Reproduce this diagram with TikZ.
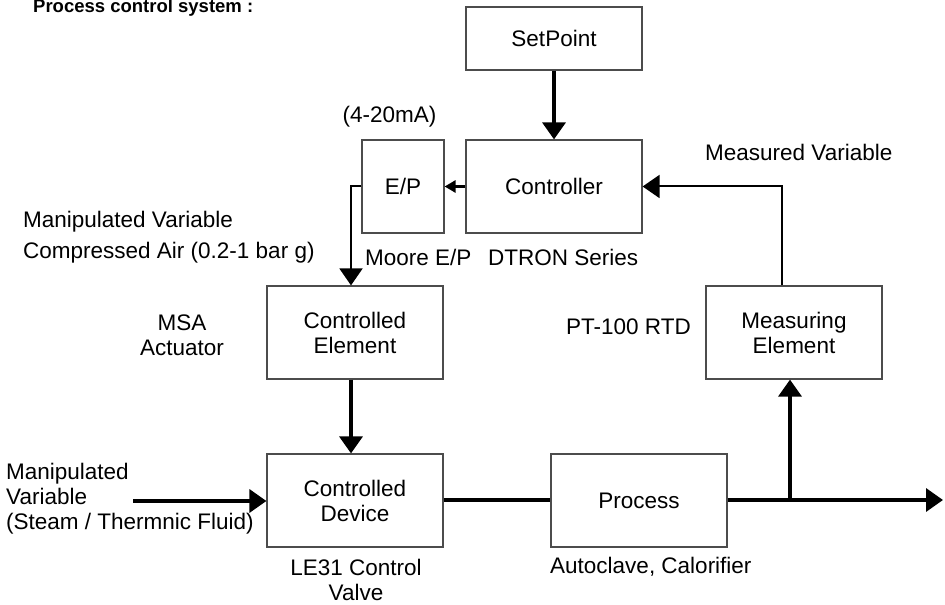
\documentclass[tikz,border=0pt]{standalone}
\usepackage{fontspec}
\setmainfont{Liberation Sans}
\usetikzlibrary{arrows.meta}

\begin{document}
\begin{tikzpicture}[x=1pt,y=1pt,font=\fontsize{22.5}{25}\selectfont,
  big tip/.style={-{Triangle[length=17pt,width=23pt]}},
  small tip/.style={-{Triangle[length=11pt,width=12pt]}},
  heavy/.style={line width=3.4pt},
  light/.style={line width=2pt},
  main node/.style={draw=black!70,line width=1.2pt,minimum width=176pt,
    minimum height=93pt,align=center,inner sep=0pt},
  label node/.style={inner sep=0pt,align=center}]

  \useasboundingbox (0,0) rectangle (945,605);

  % blocks
  \node[main node,minimum height=63pt] (1) at (554,566.5) {SetPoint};
  \node[main node] (2) [node distance=148pt,below of=1] {Controller};
  \node[main node,minimum width=82pt] (3) [node distance=151pt,left of=2] {E/P};
  \node[main node] (4) at (355,272.5) {Controlled\\Element};
  \node[main node] (5) [node distance=168pt,below of=4] {Controlled\\Device};
  \node[main node] (6) [node distance=284pt,right of=5] {Process};
  \node[main node] (7) [node distance=439pt,right of=4] {Measuring\\Element};

  % texts
  \node[label node,font=\fontsize{18.5}{20}\selectfont\bfseries,anchor=base west]
    (0) at (33,592) {Process control system :};
  \node[label node] (8) at (389.5,488) {(4-20mA)};
  \node[label node,anchor=west] (9) at (705,453) {Measured Variable};
  \node[label node,anchor=west,align=left] (10) at (23,367.5)
    {Manipulated Variable\\[6pt]Compressed Air (0.2-1 bar g)};
  \node[label node,anchor=west] (11) at (365,348) {Moore E/P};
  \node[label node,anchor=west] (12) at (488,348) {DTRON Series};
  \node[label node] (13) at (182,270) {MSA\\Actuator};
  \node[label node,anchor=west] (14) at (566,278) {PT-100 RTD};
  \node[label node,anchor=west,align=left] (15) at (6,106)
    {Manipulated\\Variable\\(Steam / Thermnic Fluid)};
  \node[label node] (16) at (356,25.5) {LE31 Control\\Valve};
  \node[label node,anchor=west] (17) at (550,38) {Autoclave, Calorifier};

  \coordinate (in) at (133,104);
  \coordinate (out) at (943,105);
  \coordinate (br) at (790,105);

  % signal lines
  \draw[heavy,big tip] (1.south) -- (1.south |- 2.north);
  \draw[heavy,small tip] (2) -- (3);
  \draw[light,big tip] (3.west) -| ([xshift=-4pt]4.north);
  \draw[heavy,big tip] ([xshift=-4pt]4.south) -- ([xshift=-4pt]5.north);
  \draw[heavy,big tip] (in) -- (in -| 5.west);
  \draw[heavy] (5.east |- br) -- (6.west |- br);
  \draw[heavy,big tip] (6.east |- br) -- (out);
  \draw[heavy,big tip] (br) -- (br |- 7.south);
  \draw[light,big tip] ([xshift=-12pt]7.north) |- (2.east);

\end{tikzpicture}
\end{document}
